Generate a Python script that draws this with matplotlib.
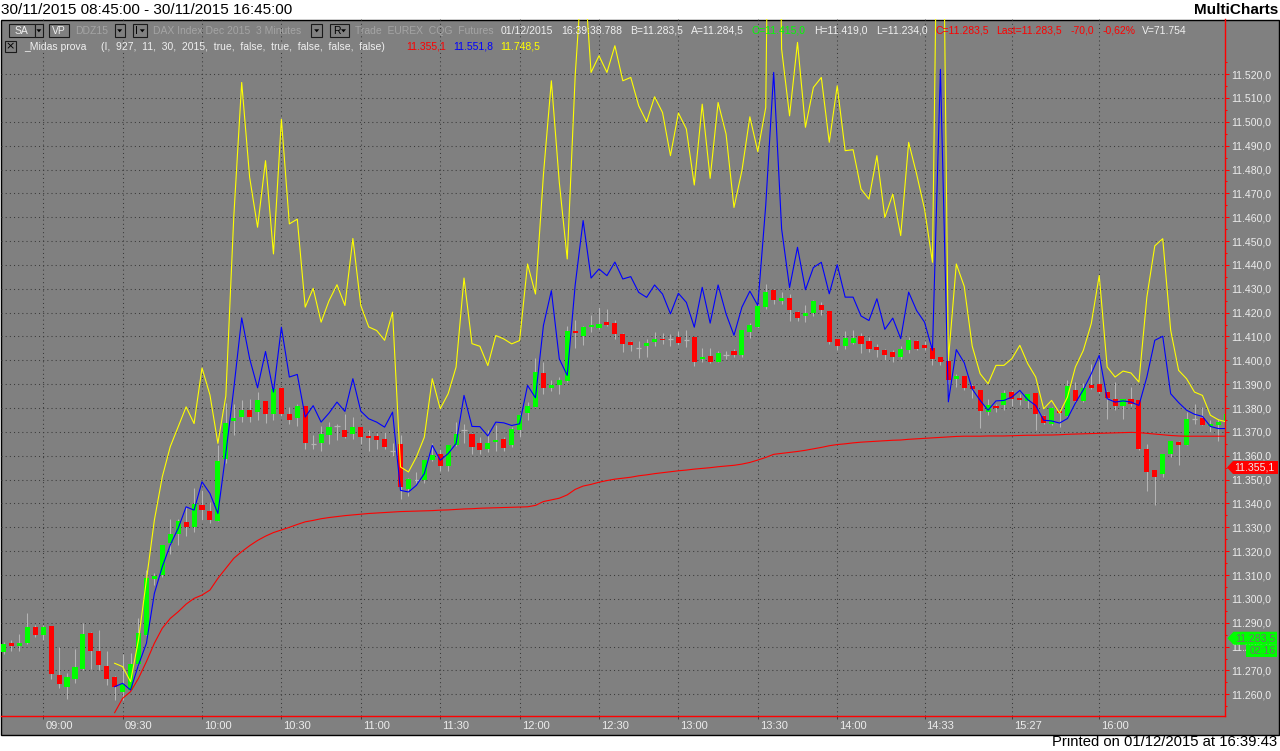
import matplotlib
matplotlib.use('Agg')
import matplotlib.pyplot as plt
from matplotlib.patches import Rectangle, Polygon
from matplotlib.transforms import Affine2D, ScaledTranslation
from matplotlib.ticker import FixedLocator, FuncFormatter
import numpy as np

# ---------------- data ----------------
opens = [11277.9, 11281.5, 11280.4, 11281.5, 11288.2, 11284.9, 11288.6, 11268.1, 11263.1, 11266.3,
         11270.6, 11285.7, 11278.3, 11272.0, 11267.3, 11261.1, 11261.8, 11272.7, 11284.9, 11308.3,
         11310.1, 11323.5, 11327.3, 11332.1, 11330.1, 11339.2, 11336.8, 11332.6, 11358.5, 11374.4,
         11376.2, 11379.3, 11378.3, 11382.8, 11377.6, 11388.5, 11377.6, 11375.9, 11380.7, 11365.0,
         11365.3, 11368.9, 11372.3, 11370.9, 11369.2, 11371.9, 11368.3, 11368.1, 11366.9, 11362.0,
         11364.8, 11346.0, 11350.0, 11350.0, 11358.4, 11360.7, 11355.5, 11364.4, 11370.6, 11369.2,
         11365.3, 11362.7, 11365.6, 11366.9, 11364.4, 11370.6, 11377.9, 11380.4, 11394.6, 11388.6,
         11389.6, 11391.3, 11412.5, 11410.1, 11414.0, 11413.5, 11416.2, 11415.5, 11411.1, 11407.5,
         11405.2, 11405.9, 11407.6, 11409.0, 11409.0, 11409.6, 11408.6, 11409.6, 11400.6, 11402.0,
         11399.5, 11402.4, 11403.8, 11402.4, 11411.9, 11414.0, 11422.3, 11429.3, 11424.7, 11426.1,
         11420.2, 11418.6, 11419.8, 11423.4, 11420.5, 11408.8, 11406.0, 11407.3, 11410.1, 11408.0,
         11405.5, 11404.2, 11403.4, 11401.4, 11404.5, 11408.0, 11406.3, 11405.2, 11401.4, 11399.7,
         11392.0, 11393.3, 11389.1, 11387.4, 11378.4, 11380.7, 11381.4, 11386.9, 11384.2, 11383.0,
         11386.2, 11376.5, 11373.5, 11378.8, 11376.8, 11387.4, 11382.8, 11389.5, 11389.9, 11386.7,
         11383.9, 11381.0, 11383.9, 11383.2, 11363.0, 11353.9, 11352.5, 11360.9, 11365.8, 11364.7,
         11375.6, 11376.0, 11372.5, 11373.0, 11374.2]
highs = [11282.1, 11282.8, 11285.3, 11294.2, 11289.2, 11289.0, 11288.8, 11279.7, 11268.8, 11279.1,
         11289.9, 11286.0, 11287.1, 11278.3, 11267.5, 11276.9, 11277.2, 11292.1, 11312.1, 11311.0,
         11322.6, 11333.6, 11333.6, 11338.6, 11346.6, 11345.6, 11340.7, 11364.5, 11382.2, 11381.9,
         11383.2, 11384.0, 11386.7, 11383.0, 11388.8, 11388.8, 11380.4, 11381.8, 11380.9, 11368.5,
         11372.4, 11374.1, 11373.4, 11377.6, 11376.2, 11372.2, 11370.6, 11369.5, 11369.8, 11365.2,
         11368.5, 11350.6, 11353.3, 11358.3, 11365.5, 11362.8, 11364.6, 11374.1, 11373.4, 11369.5,
         11367.7, 11371.0, 11372.7, 11368.0, 11372.0, 11377.6, 11382.5, 11400.9, 11399.2, 11391.6,
         11393.0, 11414.6, 11417.0, 11414.6, 11418.8, 11422.5, 11421.5, 11417.0, 11411.5, 11408.3,
         11408.3, 11409.0, 11412.0, 11411.5, 11411.1, 11412.3, 11412.8, 11409.8, 11405.1, 11405.1,
         11404.1, 11404.1, 11404.9, 11412.8, 11415.6, 11423.7, 11432.0, 11430.0, 11428.6, 11427.9,
         11420.5, 11423.0, 11425.1, 11424.4, 11420.8, 11409.0, 11412.2, 11412.9, 11411.3, 11409.8,
         11406.8, 11404.8, 11404.2, 11406.0, 11409.8, 11408.4, 11408.1, 11406.3, 11401.4, 11400.5,
         11394.4, 11393.6, 11390.0, 11387.5, 11383.6, 11381.7, 11387.4, 11387.5, 11386.0, 11386.0,
         11386.5, 11377.0, 11380.5, 11379.0, 11391.6, 11390.9, 11390.3, 11398.6, 11400.7, 11387.0,
         11390.9, 11383.9, 11388.8, 11383.3, 11365.1, 11354.0, 11360.8, 11366.1, 11366.0, 11378.4,
         11381.5, 11380.5, 11375.1, 11375.6, 11377.7]
lows = [11276.9, 11278.3, 11278.3, 11281.0, 11284.0, 11282.8, 11266.3, 11262.5, 11257.9, 11264.6,
        11270.2, 11270.8, 11270.2, 11264.0, 11257.6, 11257.6, 11261.8, 11272.0, 11284.9, 11306.0,
        11309.3, 11318.9, 11322.4, 11326.5, 11328.2, 11333.0, 11331.9, 11332.6, 11357.0, 11368.7,
        11374.1, 11374.1, 11375.1, 11373.7, 11375.1, 11376.7, 11373.2, 11372.3, 11363.0, 11363.0,
        11362.0, 11364.9, 11366.5, 11367.5, 11367.2, 11365.1, 11362.0, 11363.0, 11362.8, 11360.0,
        11342.0, 11343.0, 11348.4, 11348.5, 11358.0, 11353.7, 11353.7, 11364.2, 11365.5, 11360.9,
        11360.9, 11361.5, 11361.9, 11362.0, 11363.5, 11368.0, 11375.0, 11380.4, 11386.0, 11387.0,
        11386.0, 11391.0, 11405.0, 11406.6, 11412.0, 11413.0, 11414.5, 11409.0, 11403.7, 11403.8,
        11400.9, 11401.3, 11406.0, 11406.9, 11406.2, 11406.5, 11405.8, 11397.8, 11399.5, 11399.0,
        11399.2, 11400.4, 11401.4, 11401.5, 11409.4, 11413.5, 11421.5, 11423.7, 11423.7, 11416.5,
        11416.5, 11416.0, 11418.6, 11418.8, 11406.7, 11404.5, 11404.6, 11407.0, 11402.9, 11403.3,
        11401.5, 11400.2, 11399.5, 11400.7, 11402.9, 11404.5, 11404.5, 11397.9, 11397.9, 11390.0,
        11388.9, 11387.5, 11384.2, 11371.8, 11377.0, 11378.4, 11379.2, 11381.0, 11381.2, 11380.0,
        11371.0, 11373.5, 11373.0, 11372.0, 11376.5, 11382.5, 11382.5, 11388.1, 11386.5, 11375.6,
        11379.0, 11375.6, 11381.0, 11362.3, 11345.1, 11339.2, 11351.0, 11359.5, 11356.0, 11364.5,
        11373.5, 11373.0, 11370.0, 11366.1, 11373.5]
closes = [11281.1, 11280.4, 11281.5, 11288.2, 11284.9, 11288.2, 11268.5, 11264.3, 11267.1, 11271.5,
          11285.3, 11278.3, 11272.3, 11266.3, 11262.9, 11264.3, 11272.7, 11285.6, 11308.7, 11309.7,
          11322.4, 11327.3, 11332.6, 11330.1, 11339.7, 11337.4, 11333.0, 11357.8, 11373.7, 11375.8,
          11379.3, 11376.2, 11383.2, 11377.6, 11388.1, 11377.6, 11374.8, 11380.7, 11365.3, 11365.0,
          11369.2, 11371.9, 11372.3, 11367.8, 11371.9, 11367.8, 11367.4, 11366.7, 11363.7, 11362.0,
          11346.9, 11350.4, 11350.0, 11358.1, 11360.3, 11355.8, 11364.4, 11369.0, 11370.6, 11363.7,
          11362.5, 11365.5, 11366.5, 11363.3, 11371.3, 11376.9, 11380.7, 11395.0, 11388.6, 11389.5,
          11391.8, 11412.1, 11411.4, 11413.9, 11414.7, 11415.4, 11414.8, 11410.9, 11406.9, 11406.5,
          11405.2, 11407.2, 11409.0, 11408.4, 11409.0, 11407.2, 11408.6, 11399.2, 11401.6, 11399.2,
          11403.1, 11402.4, 11402.4, 11412.6, 11414.7, 11422.6, 11428.6, 11425.1, 11426.1, 11420.9,
          11417.7, 11419.8, 11424.7, 11420.9, 11407.7, 11406.0, 11409.4, 11409.5, 11406.7, 11404.6,
          11404.2, 11402.1, 11401.4, 11404.6, 11408.7, 11404.8, 11405.3, 11400.6, 11399.3, 11391.7,
          11393.3, 11388.6, 11388.1, 11378.8, 11381.1, 11380.0, 11386.5, 11383.7, 11383.4, 11386.0,
          11377.7, 11373.7, 11380.2, 11377.9, 11389.2, 11382.8, 11388.4, 11388.4, 11386.7, 11384.4,
          11381.0, 11383.9, 11381.6, 11362.7, 11353.2, 11351.1, 11360.6, 11366.1, 11364.7, 11375.6,
          11375.6, 11373.0, 11373.5, 11374.2, 11377.7]

line_start = 14  # indicator lines begin at this bar
yellow_band = [11273.0, 11271.6, 11265.3, 11282.8, 11307.9, 11333.0, 11351.2, 11363.8, 11372.2, 11380.5,
               11373.5, 11396.8, 11385.5, 11365.2, 11385.0, 11460.0, 11516.5, 11476.7, 11455.8, 11483.7,
               11444.6, 11501.1, 11457.2, 11459.2, 11422.3, 11430.2, 11416.0, 11425.0, 11431.7, 11423.0,
               11451.1, 11423.0, 11414.0, 11412.5, 11408.4, 11420.2, 11355.3, 11353.2, 11359.5, 11367.8,
               11392.3, 11379.7, 11386.0, 11397.2, 11434.5, 11407.0, 11405.9, 11397.8, 11410.4, 11409.0,
               11406.9, 11408.3, 11440.4, 11427.8, 11477.8, 11517.2, 11474.6, 11442.5, 11519.3, 11570.0,
               11520.7, 11527.7, 11520.7, 11531.9, 11517.2, 11518.6, 11506.7, 11500.0, 11510.5, 11503.9,
               11485.8, 11503.7, 11497.0, 11473.5, 11507.4, 11476.3, 11508.1, 11494.9, 11464.1, 11479.5,
               11502.1, 11487.5, 11506.0, 11800.0, 11530.5, 11502.5, 11533.3, 11497.7, 11514.4, 11518.6,
               11491.4, 11515.1, 11487.9, 11488.3, 11471.8, 11467.6, 11485.8, 11459.9, 11469.7, 11452.3,
               11491.4, 11478.1, 11463.4, 11441.1, 11700.0, 11400.0, 11440.4, 11431.0, 11406.0, 11394.4,
               11390.2, 11397.9, 11397.9, 11400.7, 11406.3, 11398.6, 11393.0, 11379.7, 11383.2, 11377.9,
               11384.6, 11397.2, 11404.2, 11415.4, 11435.6, 11397.2, 11393.0, 11395.5, 11394.7, 11390.9,
               11426.5, 11448.0, 11451.0, 11412.6, 11395.8, 11392.3, 11386.7, 11385.3, 11377.0, 11375.1,
               11374.2]
blue_mid = [11263.2, 11264.6, 11261.8, 11272.3, 11281.4, 11302.3, 11313.5, 11322.6, 11329.6, 11338.6,
            11337.2, 11349.1, 11344.2, 11335.8, 11361.0, 11388.0, 11417.8, 11400.7, 11388.5, 11403.7,
            11386.7, 11413.9, 11393.0, 11394.1, 11376.2, 11381.0, 11374.1, 11377.9, 11382.5, 11378.6,
            11392.3, 11378.7, 11375.5, 11374.1, 11372.0, 11378.3, 11345.5, 11344.8, 11347.6, 11352.5,
            11364.4, 11358.1, 11360.9, 11365.1, 11385.3, 11372.3, 11372.2, 11368.3, 11374.1, 11373.8,
            11372.7, 11373.4, 11389.5, 11384.3, 11414.6, 11429.2, 11400.6, 11393.7, 11431.6, 11458.6,
            11434.5, 11438.3, 11435.5, 11441.2, 11434.1, 11435.1, 11428.5, 11426.4, 11431.6, 11427.8,
            11419.5, 11428.1, 11424.3, 11413.9, 11430.6, 11415.6, 11431.6, 11419.5, 11410.5, 11422.3,
            11429.0, 11423.0, 11465.0, 11520.7, 11455.1, 11430.5, 11447.4, 11429.6, 11438.9, 11441.1,
            11427.9, 11440.1, 11426.5, 11426.5, 11418.6, 11416.7, 11425.8, 11413.0, 11417.7, 11409.1,
            11428.6, 11420.9, 11416.0, 11404.2, 11522.0, 11382.6, 11404.5, 11399.0, 11388.0, 11383.2,
            11379.1, 11383.0, 11383.2, 11384.6, 11387.4, 11383.5, 11381.1, 11374.9, 11374.6, 11373.7,
            11375.6, 11382.1, 11387.7, 11394.4, 11402.1, 11383.9, 11382.5, 11383.0, 11382.5, 11381.1,
            11393.0, 11408.4, 11410.1, 11386.0, 11382.3, 11379.1, 11377.4, 11376.5, 11372.3, 11371.4,
            11371.4]
red_vwap = [11252.3, 11258.3, 11261.1, 11266.7, 11273.7, 11281.4, 11287.7, 11291.8, 11294.6, 11297.8,
            11300.2, 11301.6, 11303.7, 11308.6, 11312.8, 11317.0, 11319.8, 11322.3, 11324.5, 11326.3,
            11327.8, 11328.9, 11330.0, 11331.2, 11332.3, 11332.9, 11333.6, 11334.1, 11334.5, 11334.9,
            11335.2, 11335.5, 11335.8, 11336.0, 11336.2, 11336.4, 11336.6, 11336.7, 11336.8, 11336.9,
            11337.0, 11337.2, 11337.3, 11337.5, 11337.7, 11337.8, 11338.0, 11338.1, 11338.2, 11338.3,
            11338.4, 11338.5, 11338.6, 11339.2, 11340.8, 11341.5, 11342.2, 11343.6, 11345.9, 11347.3,
            11348.0, 11348.9, 11349.6, 11350.2, 11350.6, 11351.0, 11351.6, 11352.0, 11352.5, 11352.9,
            11353.3, 11353.7, 11354.0, 11354.4, 11354.7, 11355.0, 11355.4, 11355.7, 11356.0, 11356.5,
            11357.2, 11358.2, 11359.3, 11360.6, 11361.0, 11361.4, 11361.8, 11362.3, 11362.9, 11363.5,
            11364.2, 11364.7, 11365.0, 11365.4, 11365.7, 11365.9, 11366.1, 11366.3, 11366.5, 11366.6,
            11366.9, 11367.1, 11367.3, 11367.5, 11367.7, 11367.9, 11368.1, 11368.2, 11368.2, 11368.2,
            11368.3, 11368.3, 11368.3, 11368.4, 11368.5, 11368.6, 11368.6, 11368.7, 11368.7, 11368.8,
            11369.0, 11369.1, 11369.2, 11369.3, 11369.4, 11369.5, 11369.6, 11369.7, 11369.8, 11369.7,
            11369.4, 11369.1, 11368.8, 11368.5, 11368.3, 11368.2, 11368.2, 11368.2, 11368.2, 11368.2,
            11368.2]

tick_bars = [5, 15, 25, 35, 45, 55, 65, 75, 85, 95, 105, 116, 127, 138]
tick_labels = ['09:00', '09:30', '10:00', '10:30', '11:00', '11:30', '12:00', '12:30',
               '13:00', '13:30', '14:00', '14:33', '15:27', '16:00']
price_ticks = list(range(11260, 11521, 10))

last_vwap_value = 11355.1
last_price = 11283.5

# ---------------- figure ----------------
W, H = 1280, 751
FONT = ['Liberation Sans', 'DejaVu Sans']
plt.rcParams['font.family'] = FONT
fig = plt.figure(figsize=(W / 100, H / 100), dpi=100, facecolor='white')
px = Affine2D().scale(1 / W, -1 / H).translate(0, 1) + fig.transFigure

GRAY = '#808080'
fig.add_artist(Rectangle((0.5, 19.5), W - 1.5, 715, transform=px, facecolor=GRAY,
                         edgecolor='black', lw=1.0, zorder=-5))

ax = fig.add_axes([1 / W, (H - 716) / H, 1224 / W, (716 - 19) / H])
ax.set_facecolor(GRAY)
ax.patch.set_alpha(0)

n = len(opens)
x = np.arange(n)
o = np.array(opens); c = np.array(closes); hi = np.array(highs); lo = np.array(lows)

# wicks
ax.vlines(x, lo, hi, color='#b4b4b4', lw=0.75, zorder=2)
# bodies
bw = 0.64
for i in range(n):
    if abs(c[i] - o[i]) < 0.05:
        ax.hlines(o[i], i - bw / 2, i + bw / 2, color='#b4b4b4', lw=0.9, zorder=3)
    else:
        col = '#00ff00' if c[i] > o[i] else '#ff0000'
        b = min(o[i], c[i]); h = max(abs(c[i] - o[i]), 0.45)
        ax.add_patch(Rectangle((i - bw / 2, b), bw, h, facecolor=col, edgecolor='none', zorder=3))

lx = np.arange(line_start, line_start + len(blue_mid))
ax.plot(lx, red_vwap, color='#ff0000', lw=0.8, zorder=4)
ax.plot(lx, blue_mid, color='#0000ff', lw=0.8, zorder=5)
ax.plot(lx, yellow_band, color='#ffff00', lw=0.8, zorder=6)

ax.set_xlim((1 - 3.5) / 7.94, (1225 - 3.5) / 7.94)
ax.set_ylim(11250.9, 11543.1)

for s in ['top', 'left']:
    ax.spines[s].set_visible(False)
for s in ['bottom', 'right']:
    ax.spines[s].set_color('#ff0000')
    ax.spines[s].set_linewidth(1.0)

ax.set_xticks(tick_bars)
ax.set_xticklabels(tick_labels)
ax.tick_params(axis='x', direction='out', length=2.2, width=0.75, color='#404040',
               labelcolor='#ececec', labelsize=8, pad=1.5)
off = ScaledTranslation(2 / 100, 0, fig.dpi_scale_trans)
for lab in ax.get_xticklabels():
    lab.set_horizontalalignment('left')
    lab.set_transform(lab.get_transform() + off)

ax.yaxis.tick_right()
ax.yaxis.set_major_locator(FixedLocator(price_ticks))
ax.yaxis.set_minor_locator(FixedLocator([v + 5 for v in range(11250, 11521, 10)]))
ax.yaxis.set_major_formatter(FuncFormatter(lambda v, p: f"{int(v) // 1000}.{int(v) % 1000:03d},0"))
ax.tick_params(axis='y', which='major', direction='out', length=2.6, width=0.75,
               color='#ff0000', labelcolor='#ececec', labelsize=7.6, pad=2)
ax.tick_params(axis='y', which='minor', direction='out', length=1.5, width=0.75, color='#ff0000')

ax.grid(True, which='major', color='#3a3a3a', linestyle=(0, (1, 3)), lw=0.75)
ax.set_axisbelow(True)

# ---------------- texts ----------------
def ftext(xp, yp, s, **kw):
    kw.setdefault('va', 'center')
    kw.setdefault('fontsize', 7.5)
    kw.setdefault('color', '#f0f0f0')
    return fig.text(xp, yp, s, transform=px, **kw)

ftext(1, 10.5, '30/11/2015 08:45:00 - 30/11/2015 16:45:00', fontsize=11, color='black')
ftext(1278, 10.5, 'MultiCharts', fontsize=11, color='black', ha='right', fontweight='bold')
ftext(1277, 742, 'Printed on 01/12/2015 at 16:39:43', fontsize=10.7, color='black', ha='right')

def box(x0, x1, y0=24, y1=37):
    fig.add_artist(Rectangle((x0, y0), x1 - x0, y1 - y0, transform=px, facecolor=GRAY,
                             edgecolor='#1a1a1a', lw=0.8, zorder=3))

def tri(xc, yc=30.8):
    fig.add_artist(Polygon([[xc - 2.5, yc - 1.5], [xc + 2.5, yc - 1.5], [xc, yc + 1.5]],
                           closed=True, transform=px, facecolor='black', edgecolor='none', zorder=4))

RY = 30.5
box(9, 34.7); ftext(21.8, RY, 'SA', ha='center')
box(34.7, 43); tri(38.9)
box(49, 69.4); ftext(59.2, RY, 'VP', ha='center')
ftext(75.5, RY, 'DDZ15', color='#a4a4a4')
box(115, 124.5); tri(119.7)
box(132.7, 147); ftext(135.5, RY, 'I', color='black'); tri(142.3)
ftext(153, RY, 'DAX Index Dec 2015  3 Minutes', color='#a4a4a4')
box(311, 322.4); tri(316.7)
box(330, 349); ftext(333, RY, 'R', color='black'); tri(343.5)
ftext(355, RY, 'Trade  EUREX  CQG  Futures', color='#a4a4a4')
ftext(501, RY, '01/12/2015')
ftext(561, RY, '16:39:38.788')
ftext(630, RY, 'B=11.283,5')
ftext(691, RY, 'A=11.284,5')
ftext(752, RY, 'O=11.415,0', color='#00ff00')
ftext(814, RY, 'H=11.419,0')
ftext(876, RY, 'L=11.234,0')
ftext(935, RY, 'C=11.283,5', color='#ff0000')
ftext(996, RY, 'Last=11.283,5', color='#ff0000')
ftext(1071, RY, '-70,0', color='#ff0000')
ftext(1103, RY, '-0,62%', color='#ff0000')
ftext(1142, RY, 'V=71.754')

R2 = 46.5
fig.add_artist(Rectangle((5, 40.5), 11, 11, transform=px, facecolor=GRAY, edgecolor='#1a1a1a',
                         lw=0.8, zorder=3))
ftext(10.5, R2, '×', ha='center', color='black', fontsize=8, family=['DejaVu Sans'])
ftext(23.7, R2, '_Midas prova')
ftext(101, R2, '(I,  927,  11,  30,  2015,  true,  false,  true,  false,  false,  false)')
ftext(406, R2, '11.355,1', color='#ff0000')
ftext(453, R2, '11.551,8', color='#0000ff')
ftext(500, R2, '11.748,5', color='#ffff00')

# ---------------- price tags on the right axis ----------------
def ypix(v):
    return 694.3 - (v - 11260) * 2.385

yr = ypix(last_vwap_value)
fig.add_artist(Polygon([[1227, yr], [1233, yr - 6.5], [1278, yr - 6.5], [1278, yr + 6.5], [1233, yr + 6.5]],
                       closed=True, transform=px, facecolor='#ff0000', edgecolor='none', zorder=5))
ftext(1234, yr, '11.355,1', fontsize=7.6, color='#ececec', zorder=6)

yg = ypix(last_price)
fig.add_artist(Polygon([[1227.5, yg], [1233.5, yg - 6.5], [1277, yg - 6.5], [1277, yg + 6.5], [1233.5, yg + 6.5]],
                       closed=True, transform=px, facecolor='#00ff00', edgecolor='none', zorder=5))
ftext(1235, yg, '11.283,5', fontsize=7.6, color='#707070', zorder=6)
fig.add_artist(Rectangle((1246, yg + 7.2), 31, 11.6, transform=px, facecolor='#00ff00',
                         edgecolor='none', zorder=5))
ftext(1249.5, yg + 13, '02:16', fontsize=7.6, color='#707070', zorder=6)

fig.savefig('out.png', dpi=100, facecolor='white')
